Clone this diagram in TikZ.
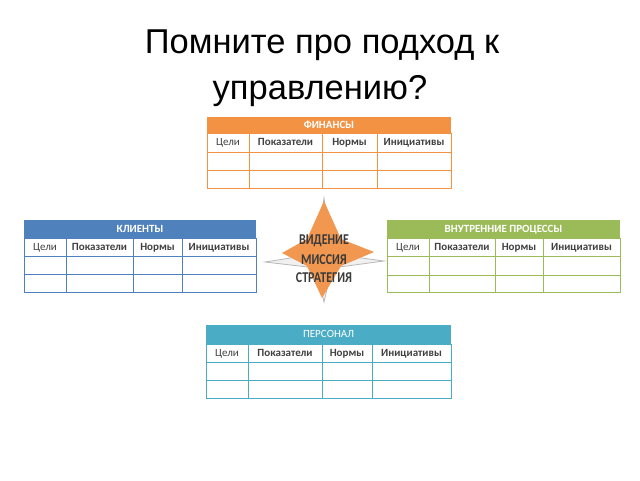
\documentclass[tikz,border=0pt]{standalone}
\usepackage{fontspec}
\setmainfont{Liberation Sans}
\newfontfamily\tblfont{Carlito}
\definecolor{finorange}{RGB}{243,146,66}
\definecolor{cliblue}{RGB}{79,129,189}
\definecolor{procgreen}{RGB}{155,187,89}
\definecolor{persteal}{RGB}{75,172,198}
\definecolor{starorange}{RGB}{241,151,80}
\definecolor{lbltext}{RGB}{64,64,64}
\tikzset{
  hdr/.style={text=white, text height=7.5pt, text depth=1pt, font=\tblfont\bfseries\fontsize{11}{12}\selectfont},
  lbl/.style={text=lbltext, text height=7.5pt, text depth=1.5pt, font=\tblfont\bfseries\fontsize{11}{12}\selectfont},
  lblthin/.style={lbl, font=\tblfont\fontsize{11}{12}\selectfont},
  startxt/.style={text=lbltext!90!black, xscale=0.8, font=\tblfont\bfseries\fontsize{15}{16}\selectfont},
  cell/.style={line width=0.9pt}
}
\begin{document}
\begin{tikzpicture}[x=1pt,y=-1pt]
	\useasboundingbox (0,0) rectangle (640,480);

	% title
	\node[anchor=base, font=\fontsize{34.5}{36}\selectfont] (title1) at (322,53) {Помните про подход к};
	\node[anchor=base, font=\fontsize{34.5}{36}\selectfont] (title2) at (320,99) {управлению?};

	% finance
	\fill[finorange] (207,117) rectangle (451,133) node[pos=.5, hdr] (finT) {ФИНАНСЫ};
	\draw[cell, finorange] (207,133) rectangle (249,152) node[pos=.5, lblthin] (finA) {Цели};
	\draw[cell, finorange] (249,133) rectangle (322,152) node[pos=.5, lbl] (finB) {Показатели};
	\draw[cell, finorange] (322,133) rectangle (377,152) node[pos=.5, lbl] (finC) {Нормы};
	\draw[cell, finorange] (377,133) rectangle (451,152) node[pos=.5, lbl] (finD) {Инициативы};
	\draw[cell, finorange] (207,152) rectangle (249,170);
	\draw[cell, finorange] (249,152) rectangle (322,170);
	\draw[cell, finorange] (322,152) rectangle (377,170);
	\draw[cell, finorange] (377,152) rectangle (451,170);
	\draw[cell, finorange] (207,170) rectangle (249,188);
	\draw[cell, finorange] (249,170) rectangle (322,188);
	\draw[cell, finorange] (322,170) rectangle (377,188);
	\draw[cell, finorange] (377,170) rectangle (451,188);

	% clients
	\fill[cliblue] (24,220) rectangle (256,238) node[pos=.5, hdr] (cliT) {КЛИЕНТЫ};
	\draw[cell, cliblue] (24,238) rectangle (66,256) node[pos=.5, lblthin] (cliA) {Цели};
	\draw[cell, cliblue] (66,238) rectangle (133,256) node[pos=.5, lbl] (cliB) {Показатели};
	\draw[cell, cliblue] (133,238) rectangle (182,256) node[pos=.5, lbl] (cliC) {Нормы};
	\draw[cell, cliblue] (182,238) rectangle (256,256) node[pos=.5, lbl] (cliD) {Инициативы};
	\draw[cell, cliblue] (24,256) rectangle (66,274);
	\draw[cell, cliblue] (66,256) rectangle (133,274);
	\draw[cell, cliblue] (133,256) rectangle (182,274);
	\draw[cell, cliblue] (182,256) rectangle (256,274);
	\draw[cell, cliblue] (24,274) rectangle (66,292);
	\draw[cell, cliblue] (66,274) rectangle (133,292);
	\draw[cell, cliblue] (133,274) rectangle (182,292);
	\draw[cell, cliblue] (182,274) rectangle (256,292);

	% internal processes
	\fill[procgreen] (387,220) rectangle (620,238) node[pos=.5, hdr] (procT) {ВНУТРЕННИЕ ПРОЦЕССЫ};
	\draw[cell, procgreen] (387,238) rectangle (429,256) node[pos=.5, lblthin] (procA) {Цели};
	\draw[cell, procgreen] (429,238) rectangle (495,256) node[pos=.5, lbl] (procB) {Показатели};
	\draw[cell, procgreen] (495,238) rectangle (543,256) node[pos=.5, lbl] (procC) {Нормы};
	\draw[cell, procgreen] (543,238) rectangle (620,256) node[pos=.5, lbl] (procD) {Инициативы};
	\draw[cell, procgreen] (387,256) rectangle (429,275);
	\draw[cell, procgreen] (429,256) rectangle (495,275);
	\draw[cell, procgreen] (495,256) rectangle (543,275);
	\draw[cell, procgreen] (543,256) rectangle (620,275);
	\draw[cell, procgreen] (387,275) rectangle (429,292);
	\draw[cell, procgreen] (429,275) rectangle (495,292);
	\draw[cell, procgreen] (495,275) rectangle (543,292);
	\draw[cell, procgreen] (543,275) rectangle (620,292);

	% personnel
	\fill[persteal] (206,325) rectangle (451,344) node[pos=.5, hdr, font=\tblfont\fontsize{11}{12}\selectfont] (perT) {ПЕРСОНАЛ};
	\draw[cell, persteal] (206,344) rectangle (248,362) node[pos=.5, lblthin] (perA) {Цели};
	\draw[cell, persteal] (248,344) rectangle (322,362) node[pos=.5, lbl] (perB) {Показатели};
	\draw[cell, persteal] (322,344) rectangle (372,362) node[pos=.5, lbl] (perC) {Нормы};
	\draw[cell, persteal] (372,344) rectangle (451,362) node[pos=.5, lbl] (perD) {Инициативы};
	\draw[cell, persteal] (206,362) rectangle (248,380);
	\draw[cell, persteal] (248,362) rectangle (322,380);
	\draw[cell, persteal] (322,362) rectangle (372,380);
	\draw[cell, persteal] (372,362) rectangle (451,380);
	\draw[cell, persteal] (206,380) rectangle (248,398);
	\draw[cell, persteal] (248,380) rectangle (322,398);
	\draw[cell, persteal] (322,380) rectangle (372,398);
	\draw[cell, persteal] (372,380) rectangle (451,398);

	% star
	\draw[gray!55, fill=gray!12, line width=0.8pt] (324,198) -- (332,254) -- (384,261) -- (332,268) -- (324,302) -- (316,268) -- (265,262) -- (316,254) -- cycle;
	\fill[starorange] (324,201) -- (341,239) -- (374,252) -- (341,266) -- (322,298) -- (307,266) -- (282,253) -- (307,239) -- cycle;
	\node[startxt] (vision) at (324,241) {ВИДЕНИЕ};
	\node[startxt] (mission) at (324,260) {МИССИЯ};
	\node[startxt] (strategy) at (324,278) {СТРАТЕГИЯ};
\end{tikzpicture}
\end{document}
